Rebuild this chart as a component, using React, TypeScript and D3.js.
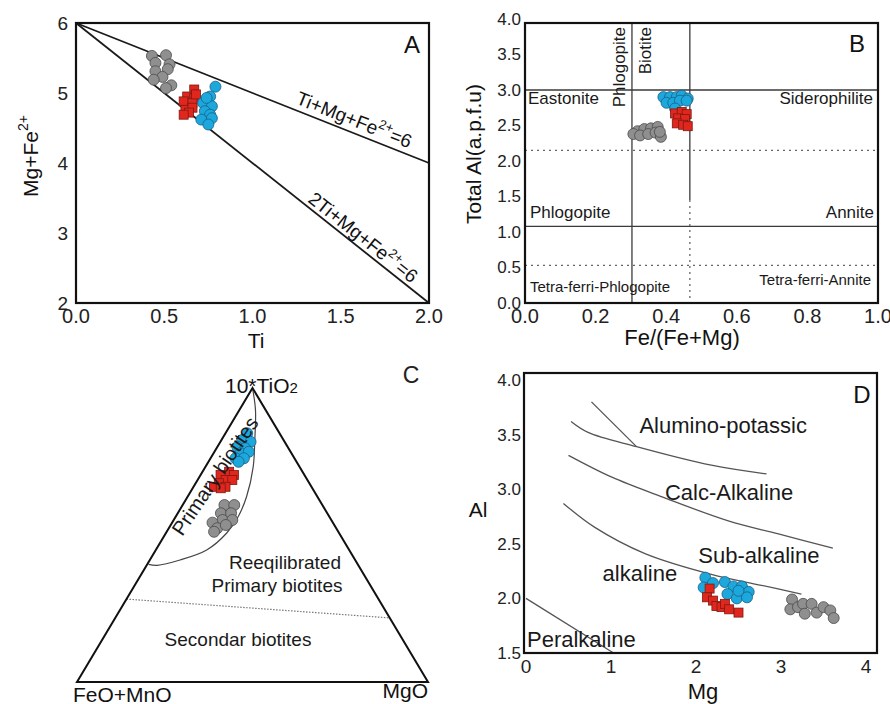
import React from 'react';
import * as d3 from 'd3';

type Pt = [number, number];

// ---------- A : Ti vs Mg+Fe2+ ----------
const grayA: Pt[] = [
  [0.43, 5.53], [0.51, 5.54], [0.53, 5.41], [0.45, 5.43], [0.45, 5.31],
  [0.52, 5.34], [0.49, 5.23], [0.44, 5.19], [0.54, 5.11], [0.51, 5.07],
];
const redA: Pt[] = [
  [0.67, 5.05], [0.63, 4.95], [0.67, 4.93], [0.61, 4.88], [0.66, 4.86],
  [0.62, 4.76], [0.66, 4.79], [0.64, 4.72], [0.61, 4.69], [0.68, 4.98],
];
const blueA: Pt[] = [
  [0.79, 5.09], [0.76, 4.95], [0.72, 4.86], [0.77, 4.81], [0.73, 4.74],
  [0.76, 4.69], [0.71, 4.62], [0.77, 4.64], [0.75, 4.55], [0.74, 4.93],
];
const lineTiA: Pt[] = [[0, 6], [2, 4]]; // Ti+Mg+Fe2+=6
const line2TiA: Pt[] = [[0, 6], [2, 2]]; // 2Ti+Mg+Fe2+=6
const ticksAx = [0, 0.5, 1, 1.5, 2];
const ticksAy = [2, 3, 4, 5, 6];

// ---------- B : Fe/(Fe+Mg) vs total Al ----------
const grayB: Pt[] = [
  [0.319, 2.42], [0.338, 2.45], [0.357, 2.46], [0.376, 2.48], [0.307, 2.38],
  [0.326, 2.36], [0.349, 2.38], [0.37, 2.4], [0.385, 2.34], [0.382, 2.41],
];
const redB: Pt[] = [
  [0.425, 2.67], [0.444, 2.69], [0.458, 2.66], [0.434, 2.6],
  [0.453, 2.59], [0.43, 2.53], [0.448, 2.51], [0.461, 2.49],
];
const blueB: Pt[] = [
  [0.392, 2.9], [0.411, 2.9], [0.43, 2.9], [0.444, 2.92], [0.461, 2.88],
  [0.401, 2.82], [0.42, 2.82], [0.439, 2.85], [0.458, 2.85], [0.425, 2.74],
];
const ticksBx = [0, 0.2, 0.4, 0.6, 0.8, 1];
const ticksBy = [0, 0.5, 1, 1.5, 2, 2.5, 3, 3.5, 4];
const solidAlB = [3.0, 1.08];
const dottedAlB = [2.15, 0.53];
const phlogBiotite = 0.303;
const biotiteAnnite = 0.467;
const annSplitAl = 1.45;

// ---------- C : ternary [TiO2 fraction, MgO fraction] ----------
const grayC: Pt[] = [
  [0.602, 0.119], [0.602, 0.147], [0.574, 0.123], [0.574, 0.152], [0.551, 0.139],
  [0.551, 0.167], [0.542, 0.115], [0.523, 0.138], [0.534, 0.157], [0.511, 0.135],
];
const redC: Pt[] = [
  [0.715, 0.076], [0.704, 0.095], [0.704, 0.057], [0.687, 0.08], [0.687, 0.099],
  [0.676, 0.066], [0.664, 0.091], [0.664, 0.058], [0.659, 0.08],
];
const blueC: Pt[] = [
  [0.846, 0.062], [0.823, 0.059], [0.817, 0.086], [0.8, 0.057], [0.795, 0.082],
  [0.778, 0.077], [0.783, 0.098], [0.761, 0.071], [0.761, 0.095], [0.749, 0.086],
];
const primaryCurveC: Pt[] = [
  [1, 0], [0.925, 0.046], [0.823, 0.095], [0.732, 0.136], [0.63, 0.168],
  [0.562, 0.178], [0.506, 0.173], [0.449, 0.145], [0.415, 0.086], [0.397, 0.03], [0.4, 0.004],
];
const secondaryLineC: Pt[] = [[0.282, 0], [0.218, 0.782]];

// ---------- D : Mg vs Al ----------
const grayD: Pt[] = [
  [3.13, 1.99], [3.11, 1.9], [3.2, 1.92], [3.26, 1.95], [3.28, 1.86],
  [3.36, 1.95], [3.42, 1.87], [3.5, 1.92], [3.58, 1.89], [3.62, 1.82],
];
const redD: Pt[] = [
  [2.16, 2.09], [2.13, 2.01], [2.2, 1.98], [2.24, 1.93],
  [2.3, 1.92], [2.34, 1.95], [2.39, 1.9], [2.5, 1.87],
];
const blueD: Pt[] = [
  [2.11, 2.19], [2.2, 2.14], [2.09, 2.1], [2.34, 2.15], [2.44, 2.11], [2.54, 2.11],
  [2.62, 2.06], [2.37, 2.04], [2.48, 2.0], [2.6, 2.01], [2.5, 2.07],
];
const peralkalineD: Pt[] = [[0, 2.0], [1.03, 1.5]];
const aluminoCutD: Pt[] = [[0.77, 3.8], [1.3, 3.39]];
const aluminoD: Pt[] = [[0.53, 3.62], [0.73, 3.52], [1.3, 3.39], [2.18, 3.22], [2.83, 3.14]];
const calcAlkD: Pt[] = [[0.5, 3.31], [1.01, 3.11], [1.6, 2.93], [2.38, 2.71], [2.97, 2.59], [3.61, 2.46]];
const subAlkD: Pt[] = [[0.44, 2.87], [0.81, 2.65], [1.4, 2.41], [2.18, 2.22], [2.77, 2.12], [3.24, 2.04]];
const ticksDx = [0, 1, 2, 3, 4];
const ticksDy = [1.5, 2, 2.5, 3, 3.5, 4];

const FONT = 'Arial, "Liberation Sans", Helvetica, sans-serif';
const COL = {
  gray: { fill: '#8f8f8f', stroke: '#4a4a4a' },
  blue: { fill: '#1ca8dd', stroke: '#1a5f84' },
  red: { fill: '#e1271d', stroke: '#7a1a12' },
};

type Sty = { fill: string; stroke: string };

const Dots = ({ pts, c }: { pts: Pt[]; c: Sty }) => (
  <g>
    {pts.map(([x, y], i) => (
      <circle key={i} cx={x} cy={y} r={5.5} fill={c.fill} stroke={c.stroke} strokeWidth={0.8} />
    ))}
  </g>
);

const Squares = ({ pts, c }: { pts: Pt[]; c: Sty }) => (
  <g>
    {pts.map(([x, y], i) => (
      <rect key={i} x={x - 4.5} y={y - 4.5} width={9} height={9} fill={c.fill} stroke={c.stroke} strokeWidth={0.8} />
    ))}
  </g>
);

// ---------- panel A ----------
const PanelA = () => {
  const x = d3.scaleLinear().domain([0, 2]).range([76, 429]);
  const y = d3.scaleLinear().domain([2, 6]).range([303, 23]);
  const proj = (p: Pt[]): Pt[] => p.map(([a, b]) => [x(a), y(b)]);
  const line = d3.line<Pt>().x((d) => x(d[0])).y((d) => y(d[1]));

  const label = (pts: Pt[], at: number) => {
    const [a, b] = proj(pts);
    const ang = (Math.atan2(b[1] - a[1], b[0] - a[0]) * 180) / Math.PI;
    return `translate(${a[0] + (b[0] - a[0]) * at},${a[1] + (b[1] - a[1]) * at}) rotate(${ang})`;
  };

  return (
    <g fontFamily={FONT}>
      <path d={line(lineTiA)!} stroke="#1a1a1a" strokeWidth={1.8} fill="none" />
      <path d={line(line2TiA)!} stroke="#1a1a1a" strokeWidth={1.8} fill="none" />
      <Dots pts={proj(grayA)} c={COL.gray} />
      <Squares pts={proj(redA)} c={COL.red} />
      <Dots pts={proj(blueA)} c={COL.blue} />
      <rect x={76} y={23} width={353} height={280} fill="none" stroke="#111" strokeWidth={2.2} />

      <text transform={label(lineTiA, 0.775)} textAnchor="middle" fontSize={19} fill="#111">
        <tspan dy={-6}>Ti+Mg+Fe</tspan>
        <tspan dy={-8} fontSize={13}>2+</tspan>
        <tspan dy={8}>=6</tspan>
      </text>
      <text transform={label(line2TiA, 0.795)} textAnchor="middle" fontSize={19} fill="#111">
        <tspan dy={-4}>2Ti+Mg+Fe</tspan>
        <tspan dy={-8} fontSize={13}>2+</tspan>
        <tspan dy={8}>=6</tspan>
      </text>

      {ticksAx.map((t) => (
        <text key={t} x={x(t)} y={323} textAnchor="middle" fontSize={20} fill="#222">
          {d3.format('.1f')(t)}
        </text>
      ))}
      {ticksAy.map((t) => (
        <text key={t} x={68} y={y(t)} dy="0.35em" textAnchor="end" fontSize={19} fill="#222">
          {t}
        </text>
      ))}
      <text x={256} y={348} textAnchor="middle" fontSize={21} fill="#111">Ti</text>
      <text transform="translate(38,197) rotate(-90)" fontSize={21} fill="#111">
        Mg+Fe<tspan dy={-10} fontSize={14}>2+</tspan>
      </text>
      <text x={412} y={53} textAnchor="middle" fontSize={24} fill="#111">A</text>
    </g>
  );
};

// ---------- panel B ----------
const PanelB = () => {
  const x = d3.scaleLinear().domain([0, 1]).range([525, 878]);
  const y = d3.scaleLinear().domain([0, 4]).range([303, 19]);
  const proj = (p: Pt[]): Pt[] => p.map(([a, b]) => [x(a), y(b)]);
  const top = 23;
  const line = '#3a3a3a';

  return (
    <g fontFamily={FONT}>
      {solidAlB.map((v) => (
        <line key={v} x1={x(0)} x2={x(1)} y1={y(v)} y2={y(v)} stroke={line} strokeWidth={1.3} />
      ))}
      {dottedAlB.map((v) => (
        <line key={v} x1={x(0)} x2={x(1)} y1={y(v)} y2={y(v)} stroke="#666" strokeWidth={1.3} strokeDasharray="2,4" />
      ))}
      <line x1={x(phlogBiotite)} x2={x(phlogBiotite)} y1={top} y2={y(0)} stroke={line} strokeWidth={1.3} />
      <line x1={x(biotiteAnnite)} x2={x(biotiteAnnite)} y1={top} y2={y(annSplitAl)} stroke={line} strokeWidth={1.3} />
      <line x1={x(biotiteAnnite)} x2={x(biotiteAnnite)} y1={y(annSplitAl)} y2={y(0)} stroke="#666" strokeWidth={1.3} strokeDasharray="2,4" />

      <Dots pts={proj(grayB)} c={COL.gray} />
      <Dots pts={proj(blueB)} c={COL.blue} />
      <Squares pts={proj(redB)} c={COL.red} />
      <rect x={x(0)} y={top} width={x(1) - x(0)} height={y(0) - top} fill="none" stroke="#111" strokeWidth={2.2} />

      <g fontSize={17} fill="#1a1a1a">
        <text x={x(0) + 3} y={104}>Eastonite</text>
        <text x={x(1) - 5} y={104} textAnchor="end">Siderophilite</text>
        <text x={x(0) + 5} y={218}>Phlogopite</text>
        <text x={x(1) - 4} y={218} textAnchor="end">Annite</text>
        <text transform={`translate(${x(phlogBiotite) - 7},${top + 4}) rotate(-90)`} textAnchor="end">Phlogopite</text>
        <text transform={`translate(${x(phlogBiotite) + 19},${top + 4}) rotate(-90)`} textAnchor="end">Biotite</text>
      </g>
      <g fontSize={15} fill="#1a1a1a">
        <text x={x(0) + 5} y={292}>Tetra-ferri-Phlogopite</text>
        <text x={x(1) - 7} y={285} textAnchor="end">Tetra-ferri-Annite</text>
      </g>

      {ticksBx.map((t) => (
        <text key={t} x={x(t)} y={323} textAnchor="middle" fontSize={20} fill="#222">
          {d3.format('.1f')(t)}
        </text>
      ))}
      {ticksBy.map((t) => (
        <text key={t} x={521} y={y(t)} dy="0.35em" textAnchor="end" fontSize={17} fill="#222">
          {d3.format('.1f')(t)}
        </text>
      ))}
      <text x={682} y={345} textAnchor="middle" fontSize={22} fill="#111">Fe/(Fe+Mg)</text>
      <text transform="translate(481,154) rotate(-90)" textAnchor="middle" fontSize={21} fill="#111">
        Total Al(a.p.f.u)
      </text>
      <text x={857} y={52} textAnchor="middle" fontSize={24} fill="#111">B</text>
    </g>
  );
};

// ---------- panel C (ternary) ----------
const PanelC = () => {
  const xs = d3.scaleLinear().domain([0, 1]).range([77, 428]);
  const ys = d3.scaleLinear().domain([0, 1]).range([682, 388]);
  const tern = ([t, m]: Pt): Pt => [xs(m + t / 2), ys(t)];
  const curve = d3.line<Pt>().x((d) => tern(d)[0]).y((d) => tern(d)[1]).curve(d3.curveCatmullRom);
  const tri: Pt[] = [[1, 0], [0, 0], [0, 1]].map((p) => tern(p as Pt));

  return (
    <g fontFamily={FONT}>
      <path d={curve(primaryCurveC)!} fill="none" stroke="#444" strokeWidth={1.2} />
      <path d={d3.line()(secondaryLineC.map(tern))!} fill="none" stroke="#777" strokeWidth={1.2} strokeDasharray="1.5,1.5" />
      <Dots pts={grayC.map(tern)} c={COL.gray} />
      <Squares pts={redC.map(tern)} c={COL.red} />
      <Dots pts={blueC.map(tern)} c={COL.blue} />
      <path d={`M${tri.map((p) => p.join(',')).join('L')}Z`} fill="none" stroke="#111" strokeWidth={2} strokeLinejoin="miter" />

      <text transform="translate(215,476) rotate(-56)" dy="0.35em" textAnchor="middle" fontSize={20} fill="#1a1a1a">
        Primary biotites
      </text>
      <g fontSize={19} fill="#1a1a1a" textAnchor="middle">
        <text x={285} y={569}>Reeqilibrated</text>
        <text x={277} y={592}>Primary biotites</text>
        <text x={238} y={646}>Secondar biotites</text>
      </g>
      <text x={225} y={393} fontSize={21} fill="#111">
        10*TiO<tspan fontSize={15}>2</tspan>
      </text>
      <text x={73} y={702} fontSize={21} fill="#111">FeO+MnO</text>
      <text x={428} y={698} textAnchor="end" fontSize={21} fill="#111">MgO</text>
      <text x={411} y={383} textAnchor="middle" fontSize={23} fill="#222">C</text>
    </g>
  );
};

// ---------- panel D ----------
const PanelD = () => {
  const x = d3.scaleLinear().domain([0, 4]).range([526, 866]);
  const y = d3.scaleLinear().domain([1.5, 4]).range([653, 380]);
  const proj = (p: Pt[]): Pt[] => p.map(([a, b]) => [x(a), y(b)]);
  const curve = d3.line<Pt>().x((d) => x(d[0])).y((d) => y(d[1])).curve(d3.curveCatmullRom);
  const stroke = '#555';

  return (
    <g fontFamily={FONT}>
      {[peralkalineD, aluminoCutD].map((l, i) => (
        <path key={i} d={d3.line()(proj(l))!} fill="none" stroke={stroke} strokeWidth={1.3} />
      ))}
      {[aluminoD, calcAlkD, subAlkD].map((l, i) => (
        <path key={i} d={curve(l)!} fill="none" stroke={stroke} strokeWidth={1.3} />
      ))}
      <Dots pts={proj(blueD)} c={COL.blue} />
      <Squares pts={proj(redD)} c={COL.red} />
      <Dots pts={proj(grayD)} c={COL.gray} />
      <rect x={524} y={373} width={353} height={280} fill="none" stroke="#111" strokeWidth={2.2} />

      <g fontSize={22} fill="#1a1a1a">
        <text x={x(2.32)} y={433} textAnchor="middle">Alumino-potassic</text>
        <text x={x(2.39)} y={500} textAnchor="middle">Calc-Alkaline</text>
        <text x={x(2.74)} y={563} textAnchor="middle">Sub-alkaline</text>
        <text x={x(1.34)} y={581} textAnchor="middle">alkaline</text>
        <text x={x(0) + 1} y={647}>Peralkaline</text>
      </g>

      {ticksDx.map((t) => (
        <text key={t} x={x(t)} y={673} textAnchor="middle" fontSize={19} fill="#222">
          {t}
        </text>
      ))}
      {ticksDy.map((t) => (
        <text key={t} x={521} y={y(t)} dy="0.35em" textAnchor="end" fontSize={17} fill="#222">
          {d3.format('.1f')(t)}
        </text>
      ))}
      <text x={703} y={699} textAnchor="middle" fontSize={22} fill="#111">Mg</text>
      <text x={478} y={517} textAnchor="middle" fontSize={21} fill="#111">Al</text>
      <text x={862} y={403} textAnchor="middle" fontSize={24} fill="#111">D</text>
    </g>
  );
};

export default function App() {
  return (
    <svg
      width={890}
      height={704}
      viewBox="0 0 890 704"
      style={{ position: 'absolute', left: 0, top: 0, background: '#fff' }}
    >
      <rect width={890} height={704} fill="#fff" />
      <PanelA />
      <PanelB />
      <PanelC />
      <PanelD />
    </svg>
  );
}
